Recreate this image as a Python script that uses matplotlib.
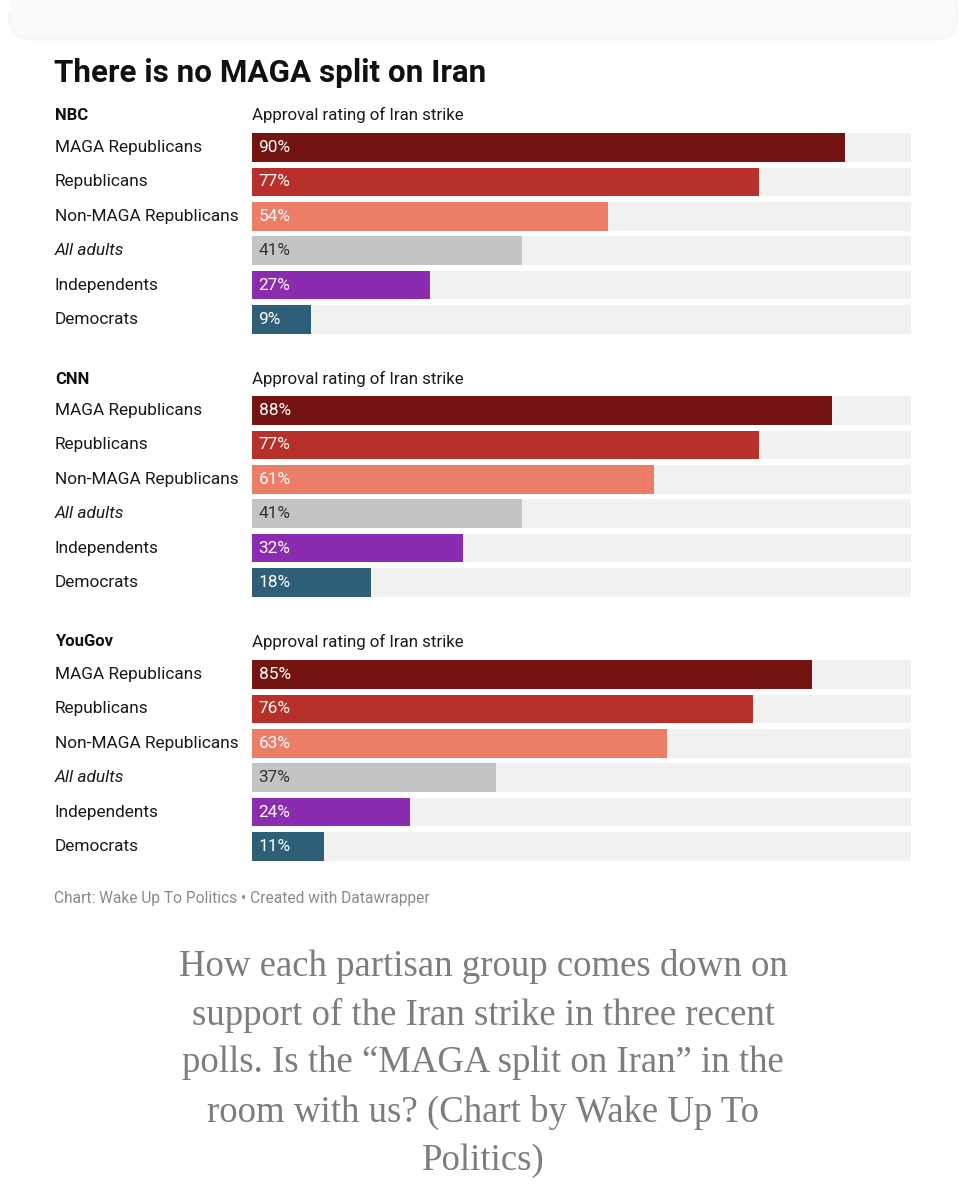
import matplotlib
matplotlib.use("Agg")
import matplotlib.pyplot as plt
import matplotlib.transforms as mtrans
from matplotlib.patches import FancyBboxPatch

# data
groups = ['MAGA Republicans', 'Republicans', 'Non-MAGA Republicans',
          'All adults', 'Independents', 'Democrats']
polls = ['NBC', 'CNN', 'YouGov']
nbc_vals = [90, 77, 54, 41, 27, 9]
cnn_vals = [88, 77, 61, 41, 32, 18]
yougov_vals = [85, 76, 63, 37, 24, 11]
poll_vals = [nbc_vals, cnn_vals, yougov_vals]
bar_colors = ['#731410', '#b7302a', '#ec7e68', '#c4c4c4', '#8a2bb0', '#2e5f78']
label_colors = ['white', 'white', 'white', '#333333', 'white', 'white']
subtitle = 'Approval rating of Iran strike'

W, H = 966, 1200
plt.rcParams['font.family'] = ['Roboto', 'DejaVu Sans']
fig = plt.figure(figsize=(W / 100, H / 100), dpi=100)
fig.patch.set_facecolor('white')

def fx(px):
    return px / W

def fy(py):
    return 1 - py / H

# faint card edge at the top (soft shadow)
for k, a in enumerate([0.35, 0.25, 0.15]):
    sh = FancyBboxPatch((fx(10 - k), fy(38 + k)), fx(946 + 2 * k), fy(-10) - fy(38 + k),
                        boxstyle="round,pad=0,rounding_size=0.02",
                        transform=fig.transFigure, facecolor='none',
                        edgecolor='#ededed', alpha=a, linewidth=1.5, zorder=0)
    fig.patches.append(sh)
card = FancyBboxPatch((fx(10), fy(37)), fx(946), fy(-10) - fy(37),
                      boxstyle="round,pad=0,rounding_size=0.02",
                      transform=fig.transFigure, facecolor='#fafafa',
                      edgecolor='none', zorder=1)
fig.patches.append(card)

fig.text(fx(54), fy(73), 'There is no MAGA split on Iran', fontsize=22.6,
         fontweight='bold', color='#111111', va='center', ha='left')

bar_left, bar_right = 252, 911
pitch = 34.4
first_rows = [147.5, 410.5, 674.5]
header_rows = [115, 379, 642]

for name, vals, y0, yh in zip(polls, poll_vals, first_rows, header_rows):
    top = y0 - pitch / 2
    bottom = y0 + 5 * pitch + pitch / 2
    ax = fig.add_axes([fx(bar_left), fy(bottom), fx(bar_right - bar_left),
                       fy(top) - fy(bottom)])
    ypos = list(range(len(groups)))
    ax.barh(ypos, [100] * len(groups), height=0.835, color='#f1f1f1', zorder=1)
    ax.barh(ypos, vals, height=0.835, color=bar_colors, zorder=2)
    ax.set_xlim(0, 100)
    ax.set_ylim(len(groups) - 0.5, -0.5)
    ax.axis('off')
    tr = mtrans.blended_transform_factory(fig.transFigure, ax.transData)
    for i, (g, v) in enumerate(zip(groups, vals)):
        ax.text(fx(55), i, g, transform=tr, fontsize=12.4, color='#1a1a1a',
                va='center', ha='left',
                style='italic' if g == 'All adults' else 'normal')
        ax.text(1.0, i, '{}%'.format(v), fontsize=12.4, color=label_colors[i],
                va='center', ha='left', zorder=3)
    fig.text(fx(55), fy(yh), name, fontsize=12, fontweight='bold',
             color='#111111', va='center', ha='left')
    fig.text(fx(252), fy(yh), subtitle, fontsize=12.2, color='#1a1a1a',
             va='center', ha='left')

fig.text(fx(54), fy(898), 'Chart: Wake Up To Politics \u2022 Created with Datawrapper',
         fontsize=11.2, color='#8a8a8a', va='center', ha='left')

caption = ['How each partisan group comes down on',
           'support of the Iran strike in three recent',
           'polls. Is the \u201cMAGA split on Iran\u201d in the',
           'room with us? (Chart by Wake Up To',
           'Politics)']
cap_y = [966, 1015, 1063, 1112, 1161]
for line, yy in zip(caption, cap_y):
    fig.text(fx(483), fy(yy), line, fontsize=26.5, color='#7d7d7d',
             family=['Liberation Serif', 'DejaVu Serif'],
             va='center', ha='center')

fig.savefig('out.png', dpi=100, facecolor='white')
